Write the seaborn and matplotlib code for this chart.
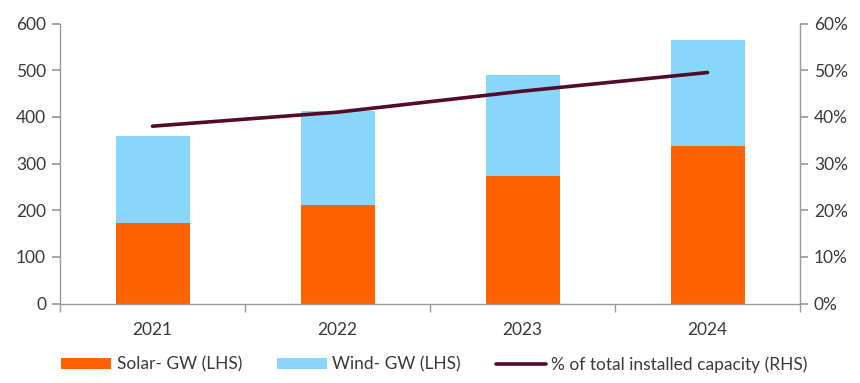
import matplotlib
matplotlib.use("Agg")
import matplotlib.pyplot as plt
import seaborn as sns
import numpy as np
import pandas as pd
from matplotlib.patches import Patch
from matplotlib.lines import Line2D
from matplotlib.ticker import FuncFormatter, FixedLocator

years = ["2021", "2022", "2023", "2024"]
solar_gw = [173, 212, 274, 338]
wind_gw = [186, 200, 215, 226]
share_pct = [38.0, 41.0, 45.5, 49.5]

left_ticks = [0, 100, 200, 300, 400, 500, 600]
right_ticks = [0, 10, 20, 30, 40, 50, 60]

sns.set_theme(style="white")
plt.rcParams["font.family"] = ["Lato", "DejaVu Sans"]

ORANGE = "#FF6200"
BLUE = "#89D6FB"
LINE = "#520B2B"
GREY = "#9A9A9A"
TEXT = "#3A3A3A"

total = [s + w for s, w in zip(solar_gw, wind_gw)]
df = pd.DataFrame({"year": years, "solar": solar_gw, "total": total})

fig = plt.figure(figsize=(8.6, 3.83), dpi=100)
ax = fig.add_axes([60 / 860, 1 - 303.5 / 383, 740 / 860, 280 / 383])

sns.barplot(data=df, x="year", y="total", color=BLUE, width=0.4, ax=ax,
            saturation=1, linewidth=0, edgecolor="none")
sns.barplot(data=df, x="year", y="solar", color=ORANGE, width=0.4, ax=ax,
            saturation=1, linewidth=0, edgecolor="none")

ax.set_xlim(-0.5, 3.5)
ax.set_ylim(0, 600)
ax.set_yticks(left_ticks)
ax.set_xlabel("")
ax.set_ylabel("")

ax2 = ax.twinx()
sns.lineplot(x=np.arange(len(years)), y=share_pct, color=LINE, linewidth=2.6, ax=ax2)
ax2.set_ylim(0, 60)
ax2.set_yticks(right_ticks)
ax2.yaxis.set_major_formatter(FuncFormatter(lambda v, p: f"{int(v)}%"))
ax2.set_xlim(-0.5, 3.5)

for a in (ax, ax2):
    a.spines["top"].set_visible(False)
    for s in ["left", "right", "bottom"]:
        a.spines[s].set_color(GREY)
        a.spines[s].set_linewidth(1.0)
ax.spines["right"].set_visible(False)
ax2.spines["left"].set_visible(False)
ax2.spines["bottom"].set_visible(False)

ax.tick_params(axis="y", which="major", direction="out", length=6, color=GREY,
               labelsize=12.5, labelcolor=TEXT, pad=4, left=True)
ax2.tick_params(axis="y", which="major", direction="out", length=6, color=GREY,
                labelsize=12.5, labelcolor=TEXT, pad=4, right=True)
ax.tick_params(axis="x", which="major", length=0, labelsize=12.5, labelcolor=TEXT, pad=13)
ax.xaxis.set_minor_locator(FixedLocator([-0.5, 0.5, 1.5, 2.5, 3.5]))
ax.tick_params(axis="x", which="minor", direction="out", length=6, color=GREY, bottom=True)

handles = [
    Patch(facecolor=ORANGE, edgecolor="none", label="Solar- GW (LHS)"),
    Patch(facecolor=BLUE, edgecolor="none", label="Wind- GW (LHS)"),
    Line2D([0], [0], color=LINE, linewidth=2.6, label="% of total installed capacity (RHS)"),
]
leg = fig.legend(handles=handles, loc="lower center", bbox_to_anchor=(0.505, -0.005), ncol=3,
                 frameon=False, fontsize=12.5, handlelength=2.9, handleheight=0.55,
                 handletextpad=0.3, columnspacing=2.0, borderpad=0.2)
for t in leg.get_texts():
    t.set_color(TEXT)

fig.savefig("out.png", dpi=100)
